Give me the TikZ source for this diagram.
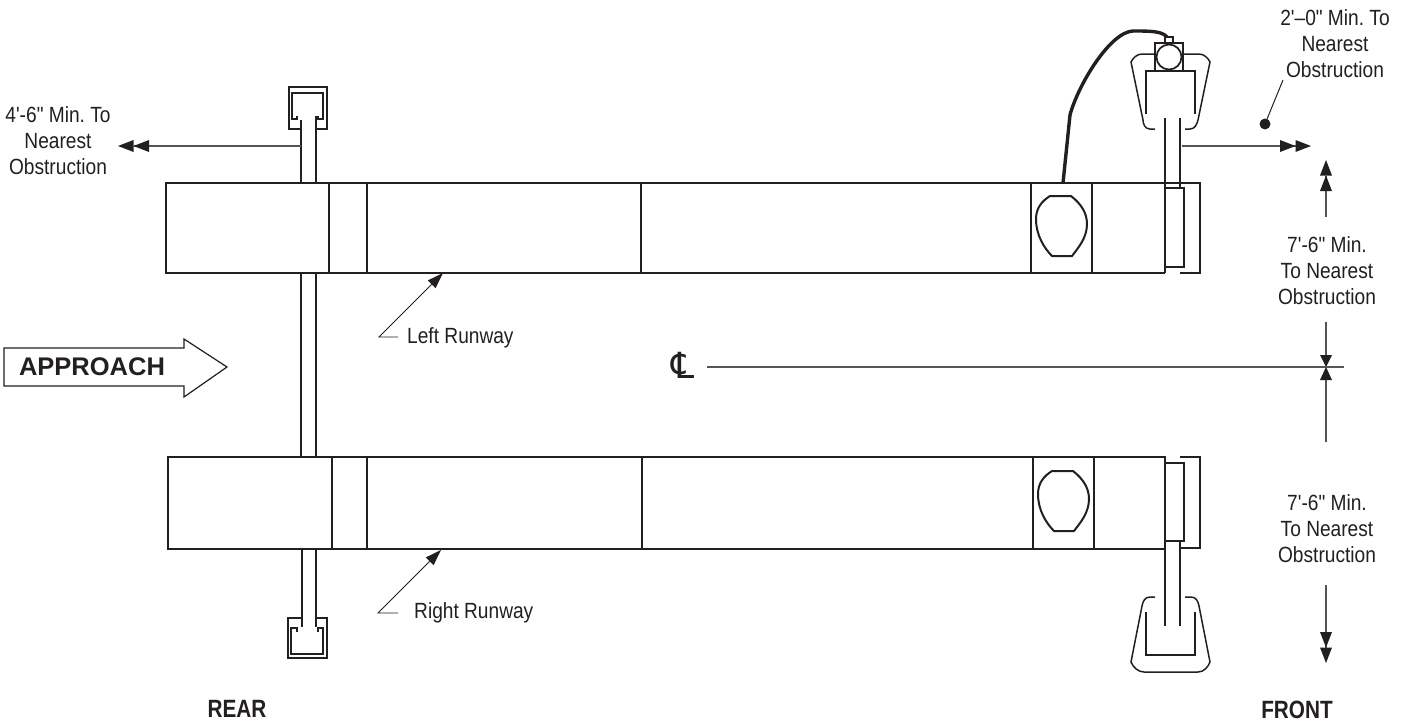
\documentclass[tikz,border=0pt]{standalone}
\usepackage{fontspec}
\newfontfamily\labfont[FakeStretch=0.87]{Liberation Sans}
\newfontfamily\headfont[FakeStretch=0.83,BoldFont={Liberation Sans Bold}]{Liberation Sans}
\newfontfamily\appfont[BoldFont={Liberation Sans Bold}]{Liberation Sans}
\newfontfamily\clfont{DejaVu Sans}
\usetikzlibrary{arrows.meta}
\definecolor{ink}{HTML}{231F20}
\definecolor{thin}{HTML}{555555}
\tikzset{
  x=1pt,y=-1pt,
  struct/.style={draw=ink,line width=2pt,line join=miter},
  fine/.style={draw=ink,line width=1.5pt},
  dim/.style={draw=thin,line width=1.1pt},
  dbl/.style={dim,-{Triangle[length=15.5pt,width=12pt,fill=ink,line width=0pt]Triangle[length=15.5pt,width=12pt,fill=ink,line width=0pt]}},
  lead/.style={draw=ink,line width=0.9pt,-{Triangle[length=16pt,width=11pt,fill=ink,line width=0pt]}},
  lab/.style={align=center,inner sep=0pt,text=ink,font=\labfont\fontsize{22}{26}\selectfont\frenchspacing},
  side/.style={inner sep=0pt,text=ink,anchor=west,font=\labfont\fontsize{22}{26}\selectfont},
  head/.style={inner sep=0pt,text=ink,font=\headfont\fontsize{25}{28}\selectfont\bfseries},
  bumpline/.style={draw=ink,line width=2pt,line join=round},
  bump/.pic={\draw[bumpline] (1050,196) -- (1071,196) .. controls (1080,203) and (1087,212) .. (1087,224) .. controls (1087,238) and (1078,248) .. (1072,256) -- (1052,256) .. controls (1044,248) and (1036,235) .. (1036,219) .. controls (1036,208) and (1042,201) .. (1050,196) -- cycle;}
}
\begin{document}
\begin{tikzpicture}
\useasboundingbox (0,0) rectangle (1401,726);
% upper runway
\draw[struct] (1165,273) -- (166,273) -- (166,183) -- (1200,183) -- (1200,273) -- (1180,273);
\draw[struct] (1165,183) -- (1165,273);
\foreach \x in {329,367,641,1031,1092} \draw[struct] (\x,183) -- (\x,273);
\draw[struct] (1165,188) -- (1184,188) -- (1184,267) -- (1165,267);
\pic at (0,0) {bump};
% lower runway
\draw[struct] (1165,549) -- (168,549) -- (168,457) -- (1165,457) -- cycle;
\draw[struct] (1180,457) -- (1200,457) -- (1200,548) -- (1180,548);
\foreach \x in {332,367,642,1032.5,1094} \draw[struct] (\x,457) -- (\x,549);
\draw[struct] (1165,463) -- (1184,463) -- (1184,541) -- (1165,541);
\pic at (2,275) {bump};
% front upper post and pad
\draw[struct] (1165,183) -- (1165,118) (1180,188) -- (1180,118);
\draw[struct] (1146,114) -- (1146,71) -- (1195,71) -- (1195,114);
\draw[fine] (1155,129) -- (1150,129) .. controls (1145,129) and (1143,124) .. (1143,120) -- (1131,62) .. controls (1133,58) and (1137,54) .. (1142,54) -- (1155,54);
\draw[fine] (1185,129) -- (1190,129) .. controls (1195,129) and (1197,124) .. (1198,120) -- (1210,62) .. controls (1208,58) and (1204,54) .. (1199,54) -- (1183,54);
\draw[fine] (1155,43) rectangle (1183,71);
\draw[fine] (1165,43) -- (1165,37) -- (1173,37) -- (1173,43);
\draw[fill=white,draw=ink,line width=1.7pt] (1169,57) circle (12.5);
\draw[draw=ink,line width=3.4pt] (1063,183) -- (1070,115) .. controls (1078,85) and (1110,32) .. (1133,31) .. controls (1150,31) and (1162,31) .. (1167,37);
% front lower post and pad
\draw[struct] (1165,549) -- (1165,626) (1180,541) -- (1180,626);
\draw[struct] (1145.5,612) -- (1145.5,655) -- (1195,655) -- (1195,612);
\draw[fine] (1155,597) -- (1150,597) .. controls (1145,597) and (1143,601) .. (1142,606) -- (1131,662) .. controls (1133,667) and (1138,672) .. (1144,672) -- (1198,672) .. controls (1204,672) and (1208,667) .. (1210,662) -- (1199,606) .. controls (1198,601) and (1196,597) .. (1191,597) -- (1185,597);
% rear upper post and bracket
\draw[struct] (301,183) -- (301,120) (316,183) -- (316,116);
\draw[struct] (301,129) -- (289,129) -- (289,87) -- (327,87) -- (327,129) -- (316,129);
\draw[fine] (297,116) -- (297,119) -- (292,119) -- (292,93) -- (323,93) -- (323,119) -- (318,119) -- (318,116);
% rear centre post
\draw[struct] (301,273) -- (301,457) (316,273) -- (316,457);
% rear lower post and bracket
\draw[struct] (302,549) -- (302,627) (316,549) -- (316,627);
\draw[struct] (302,618) -- (288,618) -- (288,658) -- (327,658) -- (327,618) -- (316,618);
\draw[fine] (297,632) -- (297,628) -- (291,628) -- (291,654) -- (323,654) -- (323,628) -- (318,628) -- (318,632);
% approach
\draw[draw=ink,line width=1.2pt,line join=miter] (4,348) -- (184,348) -- (184,339) -- (227,367) -- (184,397) -- (184,386) -- (4,386) -- cycle;
\node[inner sep=0pt,text=ink,font=\appfont\fontsize{25.5}{28}\selectfont\bfseries,anchor=center] (approach) at (92,367) {APPROACH};
% labels
\node[lab] (frontlab) at (1335,44) {2'–0" Min. To\\Nearest\\Obstruction};
\node[lab] (rearlab) at (58,141) {4'-6" Min. To\\Nearest\\Obstruction};
\node[lab] (upperlab) at (1327,271) {7'-6" Min.\\To Nearest\\Obstruction};
\node[lab] (lowerlab) at (1327,529) {7'-6" Min.\\To Nearest\\Obstruction};
\node[side] (leftrun) at (407,338) {Left Runway};
\node[side] (rightrun) at (414,613) {Right Runway};
\node[head] (rear) at (237,709) {REAR};
\node[head] (front) at (1297,710) {FRONT};
\node[inner sep=0pt,text=ink,font=\clfont\fontsize{36}{36}\selectfont] (cl) at (683,365) {℄};
% dimension coordinates
\coordinate (a1) at (301,146); \coordinate (a2) at (118,146);
\coordinate (b1) at (1182,146); \coordinate (b2) at (1311,146);
\coordinate (c1) at (1326,217); \coordinate (c2) at (1326,160);
\coordinate (d1) at (1326,322); \coordinate (d2) at (1326,367);
\coordinate (e1) at (1326,442); \coordinate (e2) at (1326,367);
\coordinate (f1) at (1326,585); \coordinate (f2) at (1326,663);
\coordinate (cl1) at (707,367); \coordinate (cl2) at (1344,367);
\coordinate (dot) at (1265,124); \coordinate (dotl) at (1283,80);
\coordinate (lr0) at (398,337); \coordinate (lr1) at (379,337); \coordinate (lr2) at (443,273);
\coordinate (rr0) at (398,613); \coordinate (rr1) at (378,613); \coordinate (rr2) at (441,550);
\draw[dbl] (a1) -- (a2);
\draw[dbl] (b1) -- (b2);
\draw[dbl] (c1) -- (c2);
\draw[dim,-{Triangle[length=12pt,width=12pt,fill=ink,line width=0pt]}] (d1) -- (d2);
\draw[dim,-{Triangle[length=13pt,width=12pt,fill=ink,line width=0pt]}] (e1) -- (e2);
\draw[dbl] (f1) -- (f2);
\draw[dim] (cl1) -- (cl2);
\draw[fine,line width=1pt] (dotl) -- (dot);
\fill[ink] (dot) circle (5.5);
\draw[lead] (lr0) -- (lr1) -- (lr2);
\draw[lead] (rr0) -- (rr1) -- (rr2);
\end{tikzpicture}
\end{document}
